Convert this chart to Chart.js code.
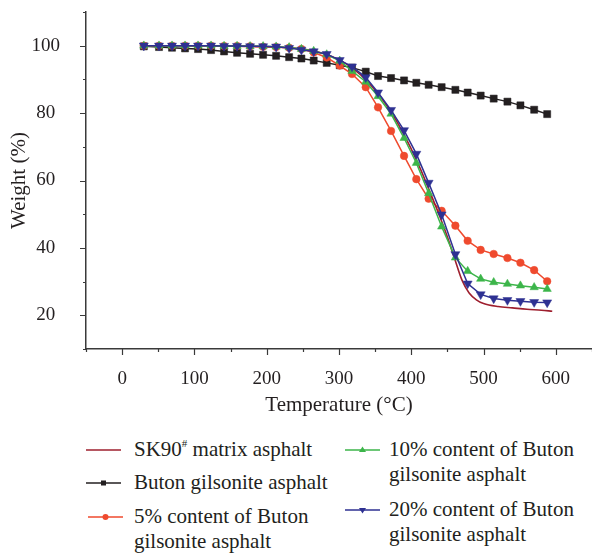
<!DOCTYPE html>
<html>
<head>
<meta charset="utf-8">
<script src="https://cdn.jsdelivr.net/npm/chart.js@4.4.0/dist/chart.umd.min.js"></script>
<style>
body { margin: 0; background: #fff; }
#wrap { position: relative; width: 592px; height: 553px; font-family: "Liberation Serif", "DejaVu Serif", serif; color: #231f20; }
#chartBox { position: absolute; left: 0; top: 0; width: 592px; height: 425px; }
.leg { position: absolute; font-size: 21px; line-height: 25px; white-space: nowrap; }
.ico { position: absolute; }
sup { font-size: 11px; vertical-align: 9px; line-height: 0; }
</style>
</head>
<body>
<div id="wrap">
  <div id="chartBox"><canvas id="tga-chart" width="592" height="425"></canvas></div>

  <svg class="ico" style="left:86px;top:445px" width="36" height="10"><line x1="0" y1="5" x2="35" y2="5" stroke="#9e1f2e" stroke-width="1.5"/></svg>
  <div class="leg" style="left:134px;top:437px">SK90<sup>#</sup> matrix asphalt</div>

  <svg class="ico" style="left:86px;top:478px" width="36" height="10"><line x1="0" y1="5" x2="35" y2="5" stroke="#231f20" stroke-width="1.5"/><rect x="15" y="2.5" width="5" height="5" fill="#231f20"/></svg>
  <div class="leg" style="left:134px;top:470px">Buton gilsonite asphalt</div>

  <svg class="ico" style="left:88px;top:512px" width="36" height="10"><line x1="0" y1="5" x2="35" y2="5" stroke="#ef4a2e" stroke-width="1.5"/><circle cx="17.5" cy="5" r="3" fill="#ef4a2e"/></svg>
  <div class="leg" style="left:134px;top:504px">5% content of Buton<br>gilsonite asphalt</div>

  <svg class="ico" style="left:345px;top:445px" width="36" height="10"><line x1="0" y1="5" x2="35" y2="5" stroke="#3cb54a" stroke-width="1.5"/><polygon points="17.5,1.5 21,7 14,7" fill="#3cb54a"/></svg>
  <div class="leg" style="left:389px;top:437px">10% content of Buton<br>gilsonite asphalt</div>

  <svg class="ico" style="left:345px;top:505px" width="36" height="10"><line x1="0" y1="5" x2="35" y2="5" stroke="#2e3192" stroke-width="1.5"/><polygon points="14,3 21,3 17.5,8.5" fill="#2e3192"/></svg>
  <div class="leg" style="left:389px;top:497px">20% content of Buton<br>gilsonite asphalt</div>
</div>

<script>
// temperature (°C) of the marker points, shared by the marker series
var temps = [30, 51, 69, 87, 105, 123, 141, 159, 177, 195, 213, 231, 248, 265, 283, 301,
             318, 337, 354, 372, 390, 407, 424, 442, 461, 478, 496, 514, 533, 551, 570, 588];

var butonWeight = [99.8, 99.6, 99.4, 99.2, 99.0, 98.7, 98.3, 97.9, 97.6, 97.3, 97.0, 96.6, 96.2, 95.6, 94.9, 94.2,
                   93.5, 92.3, 91.0, 90.4, 89.7, 89.0, 88.4, 87.7, 86.9, 86.1, 85.2, 84.3, 83.4, 82.3, 81.0, 79.7];

var bga5Weight = [100, 100, 100, 100, 100, 100, 99.9, 99.9, 99.8, 99.7, 99.6, 99.4, 99.0, 98.0, 96.5, 94.1,
                  91.6, 87.7, 81.7, 74.7, 67.3, 60.4, 54.6, 51.0, 46.6, 42.1, 39.4, 38.2, 37.0, 35.6, 33.4, 30.1];

var bga10Weight = [100, 100, 100, 100, 100, 100, 99.9, 99.9, 99.8, 99.8, 99.7, 99.5, 99.0, 98.4, 97.4, 95.5,
                   92.5, 89.3, 85.0, 79.8, 72.6, 65.2, 56.2, 46.3, 37.1, 33.1, 30.8, 29.8, 29.3, 28.8, 28.3, 27.8];

var bga20Weight = [100, 100, 100, 100, 100, 100, 99.9, 99.9, 99.8, 99.8, 99.7, 99.3, 98.8, 98.3, 97.5, 95.7,
                   93.8, 90.6, 86.1, 80.9, 74.9, 67.9, 59.3, 49.9, 38.1, 29.4, 26.2, 25.0, 24.5, 24.2, 23.9, 23.8];

// SK90# matrix asphalt, plain curve
var matrixTemps = [30, 100, 150, 200, 230, 250, 270, 290, 310, 330, 350, 370, 390, 410, 430, 440,
                   450, 460, 470, 480, 490, 500, 520, 540, 560, 580, 595];
var matrixWeight = [100, 100, 99.9, 99.7, 99.4, 99.0, 98.2, 96.8, 94.6, 91.3, 86.8, 81.0, 73.6, 64.7, 54.4, 49.0,
                    43.2, 36.8, 30.5, 26.6, 24.6, 23.5, 22.6, 22.2, 21.8, 21.5, 21.2];

var xTickLabels = [0, 100, 200, 300, 400, 500, 600];
var yTickLabels = [20, 40, 60, 80, 100];

function toPoints(xs, ys) {
	var pts = [];
	for (var i = 0; i < xs.length; i++) {
		pts.push({ x: xs[i], y: ys[i] });
	}
	return pts;
}

var axisColor = '#3a3a3a';
var textColor = '#231f20';

// outward major / minor tick marks
var axisTicks = {
	id: 'axisTicks',
	afterDraw: function(chart) {
		var ctx = chart.ctx;
		var xs = chart.scales.x;
		var ys = chart.scales.y;
		ctx.save();
		ctx.strokeStyle = axisColor;
		ctx.lineWidth = 1.2;
		ctx.beginPath();
		for (var i = 0; i < xs.ticks.length; i++) {
			var v = xs.ticks[i].value;
			var px = Math.round(xs.getPixelForValue(v)) + 0.5;
			var len = (v % 100 === 0) ? 6 : 3;
			ctx.moveTo(px, xs.top);
			ctx.lineTo(px, xs.top + len);
		}
		for (var j = 0; j < ys.ticks.length; j++) {
			var w = ys.ticks[j].value;
			var py = Math.round(ys.getPixelForValue(w)) + 0.5;
			var len2 = (w % 20 === 0) ? 6 : 3;
			ctx.moveTo(ys.right, py);
			ctx.lineTo(ys.right - len2, py);
		}
		ctx.stroke();
		ctx.restore();
	}
};

var markerSet = function(label, data, color, style, radius, rotation, order) {
	return {
		label: label,
		data: data,
		borderColor: color,
		backgroundColor: color,
		borderWidth: 1.5,
		pointStyle: style,
		pointRadius: radius,
		pointRotation: rotation,
		pointBorderWidth: 0.5,
		tension: 0,
		fill: false,
		order: order
	};
};

var ctx = document.getElementById('tga-chart').getContext('2d');
var chart = new Chart(ctx, {
	type: 'line',
	data: {
		datasets: [
			{
				label: 'SK90# matrix asphalt',
				data: toPoints(matrixTemps, matrixWeight),
				borderColor: '#9e1f2e',
				borderWidth: 1.6,
				pointRadius: 0,
				cubicInterpolationMode: 'monotone',
				fill: false,
				order: 2
			},
			markerSet('Buton gilsonite asphalt', toPoints(temps, butonWeight), '#231f20', 'rect', 5, 0, 4),
			markerSet('5% content of Buton gilsonite asphalt', toPoints(temps, bga5Weight), '#ef4a2e', 'circle', 3.8, 0, 3),
			markerSet('10% content of Buton gilsonite asphalt', toPoints(temps, bga10Weight), '#3cb54a', 'triangle', 4.8, 0, 1),
			markerSet('20% content of Buton gilsonite asphalt', toPoints(temps, bga20Weight), '#2e3192', 'triangle', 5.2, 180, 0)
		]
	},
	options: {
		responsive: false,
		animation: false,
		layout: { autoPadding: false, padding: { top: 12, right: 0, left: 0, bottom: 0 } },
		plugins: {
			legend: { display: false },
			tooltip: { enabled: false }
		},
		scales: {
			x: {
				type: 'linear',
				min: -50,
				max: 650,
				grid: { display: false },
				border: { display: true, color: axisColor, width: 1.5 },
				ticks: {
					stepSize: 50,
					autoSkip: false,
					maxRotation: 0,
					padding: 11,
					color: textColor,
					font: { family: 'Liberation Serif', size: 19 },
					callback: function(value) {
						return xTickLabels.indexOf(value) >= 0 ? String(value) : '';
					}
				},
				title: {
					display: true,
					text: 'Temperature (°C)',
					color: textColor,
					font: { family: 'Liberation Serif', size: 21 },
					padding: { top: 0, bottom: 7 }
				},
				afterFit: function(scale) {
					scale.height = 76;
					scale.paddingLeft = 0;
					scale.paddingRight = 0;
				}
			},
			y: {
				min: 10,
				max: 110,
				grid: { display: false },
				border: { display: true, color: axisColor, width: 1.5 },
				ticks: {
					stepSize: 10,
					autoSkip: false,
					padding: 18,
					crossAlign: 'center',
					color: textColor,
					font: { family: 'Liberation Serif', size: 19 },
					callback: function(value) {
						return yTickLabels.indexOf(value) >= 0 ? String(value) : '';
					}
				},
				title: {
					display: true,
					text: 'Weight (%)',
					color: textColor,
					font: { family: 'Liberation Serif', size: 21 },
					padding: { top: 7, bottom: 0 }
				},
				afterFit: function(scale) {
					scale.width = 86;
					scale.paddingTop = 0;
					scale.paddingBottom = 0;
				}
			}
		}
	},
	plugins: [axisTicks]
});
</script>
</body>
</html>
